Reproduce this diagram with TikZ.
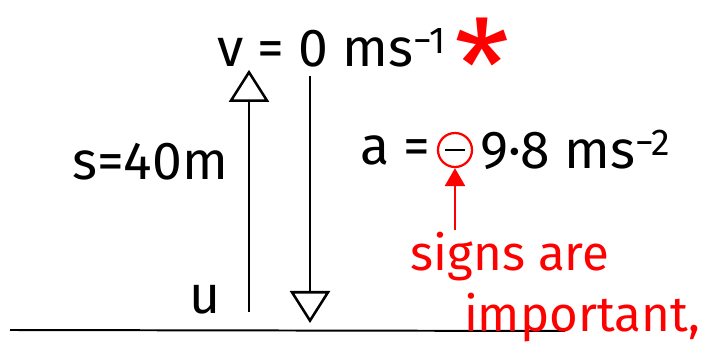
\documentclass[tikz,border=0pt]{standalone}
\usepackage{fontspec}
\setmainfont{Fira Sans}
\usetikzlibrary{arrows.meta,positioning}
\tikzset{
  hand/.style={font=\fontsize{38}{40}\selectfont, inner sep=1pt},
  note/.style={hand, red, font=\fontsize{35}{38}\selectfont},
  openhead/.style={-{Triangle[open, length=0.8cm, width=1cm, line width=1.8pt]}},
  signhead/.style={red, -{Triangle[length=0.45cm, width=0.5cm]}}
}
\begin{document}
\begin{tikzpicture}[x=0.025cm, y=-0.025cm, line width=1.8pt]
\useasboundingbox (0,0) rectangle (711,360);
% the ground
\coordinate (gl) at (10,330);
\coordinate (gr) at (565,331);
\draw[line width=1.4pt] (gl) -- (gr);
% top of the throw
\node[hand] (v) at (332,48) {v = 0 ms\textsuperscript{−1}};
\node[note, font=\fontsize{90}{90}\selectfont, right=2pt of v.north east, anchor=north west, yshift=8pt] (star) {*};
% up and down
\coordinate (ubot) at (249,312);
\coordinate (dtop) at (310,76);
\coordinate (dbot) at (310,323);
\draw[openhead] (ubot) -- (ubot |- v.south);
\draw[openhead] (dtop) -- (dbot);
\node[hand] (s) at (150,162) {s=40m};
\node[hand] (u) at (205,300) {u};
% acceleration
\node[hand] (aeq) at (395,150) {a =};
\node[circle, draw=red, line width=1.6pt, minimum size=0.85cm, right=3pt of aeq] (minus) {};
\draw ([xshift=6pt]minus.west) -- ([xshift=-6pt]minus.east);
\node[hand, right=3pt of minus] (aval) {9·8 ms\textsuperscript{−2}};
% the note
\node[note] (signs) at (510,257) {signs are};
\node[note] (imp) at (582,318) {important,};
\draw[signhead] (signs.north -| minus.south) -- (minus.south);
\end{tikzpicture}
\end{document}
